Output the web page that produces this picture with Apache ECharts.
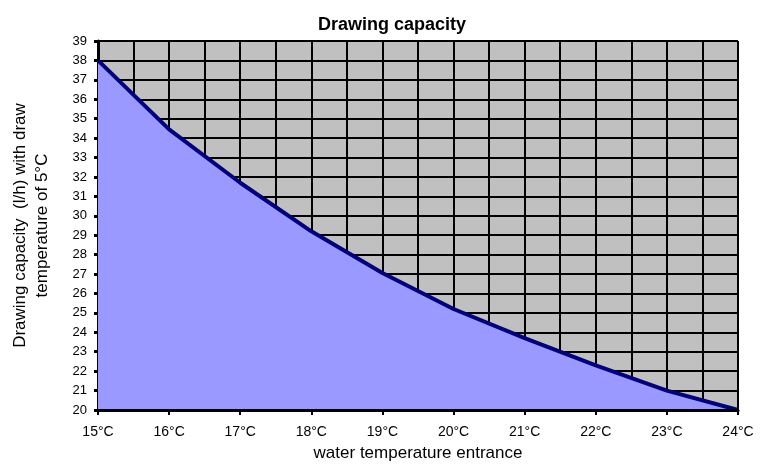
<!DOCTYPE html>
<html><head><meta charset="utf-8">
<script src="https://cdn.jsdelivr.net/npm/echarts@6/dist/echarts.min.js"></script>
<style>html,body{margin:0;padding:0;background:#fff}#c{width:766px;height:466px}</style>
</head><body><div id="c"></div>
<script>
const categories = ['15°C','16°C','17°C','18°C','19°C','20°C','21°C','22°C','23°C','24°C'];
const capacity = [38, 34.45, 31.7, 29.2, 27.05, 25.2, 23.7, 22.3, 21.0, 20];
const yMin = 20, yMax = 39;

const chart = echarts.init(document.getElementById('c'));
const font = 'Liberation Sans, Arial, sans-serif';
chart.setOption({
  animation: false,
  backgroundColor: '#ffffff',
  title: {
    text: 'Drawing capacity', left: 387, top: 11, textAlign: 'center',
    textStyle: { fontFamily: font, fontSize: 18, fontWeight: 'bold', color: '#000' }
  },
  grid: { left: 98, right: 28, top: 41, bottom: 56, show: true, containLabel: false,
          outerBoundsMode: 'none',
          backgroundColor: '#C0C0C0', borderColor: '#a0a0a0', borderWidth: 1 },
  xAxis: [{
    type: 'category', data: categories, boundaryGap: false,
    name: 'water temperature entrance', nameLocation: 'middle', nameGap: 35,
    nameTextStyle: { fontFamily: font, fontSize: 17, color: '#000' },
    axisLine: { lineStyle: { color: '#000', width: 3 } },
    axisTick: { show: true, length: 5, lineStyle: { color: '#000', width: 2 } },
    axisLabel: { fontFamily: font, fontSize: 14, color: '#000', margin: 15 },
    splitLine: { show: false }, z: 5
  }, {
    type: 'value', min: 0, max: 18, interval: 1, show: true, position: 'bottom',
    axisLine: { show: false }, axisTick: { show: false }, axisLabel: { show: false },
    splitLine: { show: true, lineStyle: { color: '#000', width: 2 } }
  }],
  yAxis: {
    type: 'value', min: yMin, max: yMax, interval: 1,
    name: 'Drawing capacity  (l/h) with draw\ntemperature of 5°C',
    nameLocation: 'middle', nameGap: 45, nameRotate: 90,
    nameTextStyle: { fontFamily: font, fontSize: 17, color: '#000', lineHeight: 22 },
    axisLine: { show: true, lineStyle: { color: '#000', width: 3 } },
    axisTick: { show: true, length: 4, lineStyle: { color: '#000', width: 3 } },
    axisLabel: { fontFamily: font, fontSize: 13, color: '#000', margin: 11 },
    splitLine: { show: true, lineStyle: { color: '#000', width: 2 } }
  },
  series: [{
    type: 'line', data: capacity, xAxisIndex: 0, symbol: 'none',
    lineStyle: { color: '#000080', width: 4 },
    areaStyle: { color: '#9999FF', opacity: 1 },
    z: 3
  }]
});
</script></body></html>
